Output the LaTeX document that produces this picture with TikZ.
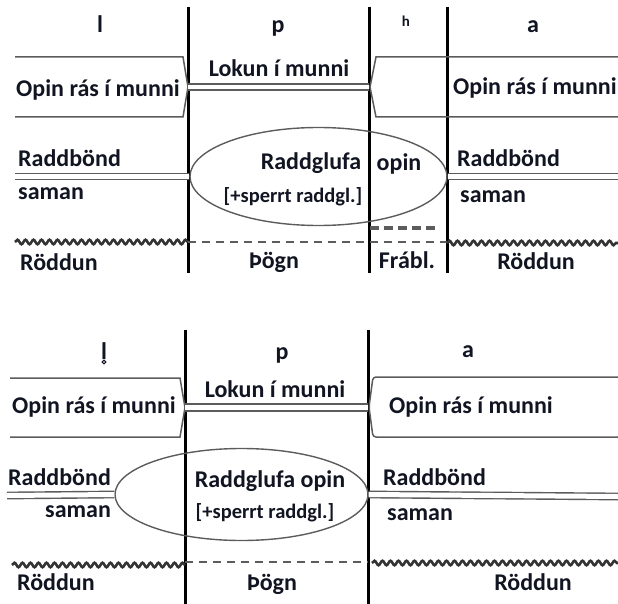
\documentclass[tikz,border=0pt]{standalone}
\usepackage{fontspec}
\setmainfont{Carlito}
\usetikzlibrary{decorations.pathmorphing, shapes.geometric}
\definecolor{rimgray}{HTML}{5C5C5C}
\definecolor{inkdark}{HTML}{111522}

\begin{document}
\begin{tikzpicture}[x=1pt, y=-1pt,
        divider/.style={line width=3pt, draw=black},
        txt/.style={anchor=base, inner sep=0pt, text=inkdark,
            font=\fontsize{24}{28}\selectfont\bfseries},
        txtw/.style={txt, anchor=base west},
        txtsm/.style={txt, font=\fontsize{20.5}{24}\selectfont\bfseries},
        rim/.style={line width=1.5pt, draw=rimgray},
        dbl/.style={draw=rimgray, line width=1.4pt, double=white, double distance=5pt},
        glottis/.style={ellipse, draw=rimgray, line width=1.4pt, inner sep=0pt},
        voicing/.style={draw=rimgray!55!black, line width=2.6pt, decorate,
            decoration={snake, segment length=8pt, amplitude=2.2pt}},
        silence/.style={draw=rimgray, line width=2.2pt, dash pattern=on 8pt off 6pt}
    ]
        \useasboundingbox (0,0) rectangle (618,604);

        % upper chart: l p h a
        \draw[divider] (188,7) -- (188,273);
        \draw[divider] (369,7) -- (369,273);
        \draw[divider] (447,7) -- (447,273);

        \node[txt] (hdl) at (100,33) {l};
        \node[txt] (hdp) at (278,33) {p};
        \node[txt, font=\fontsize{15}{18}\selectfont\bfseries] (hdh) at (406,27) {h};
        \node[txt] (hda) at (533,33) {a};

        \draw[rim] (15,57) -- (183,57) -- (188,87) -- (183,117) -- (15,117);
        \draw[rim] (618,57) -- (376,57) -- (370,87) -- (376,117) -- (618,117);
        \coordinate (lkA) at (188,87);
        \coordinate (lkB) at (369,87);
        \draw[dbl, double distance=4.6pt] (lkA) -- (lkB);

        \node[txt] (orsA) at (98,97) {Opin rás í munni};
        \node[txt] (lokA) at (279,77) {Lokun í munni};
        \node[txtw] (orsB) at (453,95) {Opin rás í munni};

        \node[glottis, minimum width=257pt, minimum height=98pt] (glA) at (318.5,176.5) {};
        \coordinate (rbA) at (15,176.5);
        \coordinate (rbB) at (618,176.5);
        \draw[dbl] (rbA) -- (glA.west);
        \draw[dbl] (glA.east) -- (rbB);

        \node[txtw] (rbdA) at (18,167) {Raddbönd};
        \node[txtw] (samA) at (18,200) {saman};
        \node[txt] (rglA) at (311,170) {Raddglufa};
        \node[txt] (opA) at (399,171) {opin};
        \node[txtsm] (spA) at (293,202) {[+sperrt raddgl.]};
        \node[txtw] (rbdB) at (457,167) {Raddbönd};
        \node[txtw] (samB) at (460,202) {saman};

        \draw[voicing] (15,242) -- (188,242);
        \draw[silence] (188,242) -- (447,242);
        \draw[silence, line width=3.5pt, dash pattern=on 9pt off 5pt] (370,228) -- (437,228);
        \draw[voicing] (447,243) -- (618,243);

        \node[txtw] (rdA) at (20,270) {Röddun};
        \node[txt] (pgA) at (274,268) {Þögn};
        \node[txt] (frA) at (407,268) {Frábl.};
        \node[txt] (rdB) at (536,269) {Röddun};

        % lower chart: l p a
        \draw[divider] (185,330) -- (185,604);
        \draw[divider] (368,330) -- (368,604);

        \node[txt] (hdlb) at (104,359) {l};
        \draw[line width=1pt, draw=inkdark] (104,362) circle (1.8pt);
        \node[txt] (hdpb) at (282,359) {p};
        \node[txt] (hdab) at (468,357) {a};

        \draw[rim] (10,378) -- (180,378) -- (185,407.5) -- (180,437) -- (10,437);
        \draw[rim, rounded corners=3pt] (618,377) -- (373,377) -- (369,407) -- (373,437) -- (618,437);
        \coordinate (lkC) at (185,407.5);
        \coordinate (lkD) at (368,407.5);
        \draw[dbl, double distance=5.5pt] (lkC) -- (lkD);

        \node[txt] (orsC) at (94,413) {Opin rás í munni};
        \node[txt] (lokC) at (275,397) {Lokun í munni};
        \node[txt] (orsD) at (471,413) {Opin rás í munni};

        \node[glottis, minimum width=253pt, minimum height=92pt] (glC) at (241.5,494.5) {};
        \coordinate (rbC) at (7,495.5);
        \coordinate (rbD) at (618,496.5);
        \draw[dbl] (rbC) -- (glC.west);
        \draw[dbl] (glC.east) -- (rbD);

        \node[txtw] (rbdC) at (8,485) {Raddbönd};
        \node[txtw] (samC) at (45,517) {saman};
        \node[txt] (rglC) at (270,487) {Raddglufa opin};
        \node[txtsm] (spC) at (265,518) {[+sperrt raddgl.]};
        \node[txtw] (rbdD) at (383,485) {Raddbönd};
        \node[txtw] (samD) at (387,520) {saman};

        \draw[voicing] (12,565) -- (185,565);
        \draw[silence] (185,562) -- (368,562);
        \draw[voicing] (372,563) -- (618,563);

        \node[txtw] (rdC) at (17,590) {Röddun};
        \node[txt] (pgC) at (272,590) {Þögn};
        \node[txt] (rdD) at (533,590) {Röddun};
    \end{tikzpicture}
\end{document}
